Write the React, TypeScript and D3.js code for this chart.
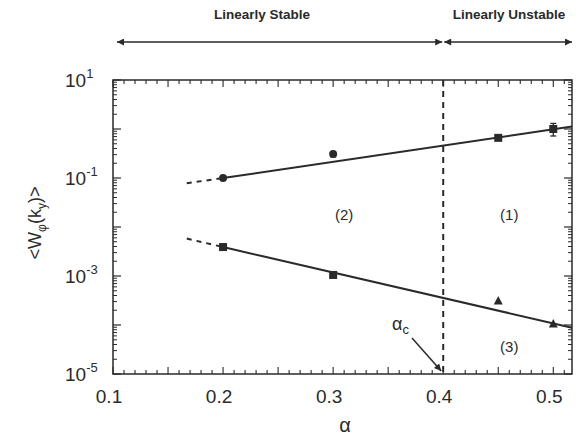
import React from "react";
import * as d3 from "d3";

const W = 580;
const H = 440;

// Data (alpha, <W_phi(k_y)>)
const upperAlpha = [0.2, 0.3, 0.45, 0.5];
const upperValue = [0.1, 0.31, 0.66, 1.0];
const upperMarker = ["circle", "circle", "square", "square"];
const upperErrLo = [0.1, 0.27, 0.6, 0.72];
const upperErrHi = [0.1, 0.31, 0.72, 1.3];

const lowerAlpha = [0.2, 0.3, 0.45, 0.5];
const lowerValue = [0.0039, 0.00105, 0.00031, 0.000105];
const lowerMarker = ["square", "square", "triangle", "triangle"];

const upperFitAlpha = [0.2, 0.517];
const upperFitValue = [0.1, 1.12];
const upperDashAlpha = [0.167, 0.2];
const upperDashValue = [0.078, 0.1];

const lowerFitAlpha = [0.2, 0.517];
const lowerFitValue = [0.0039, 0.000088];
const lowerDashAlpha = [0.167, 0.2];
const lowerDashValue = [0.0058, 0.0039];

const alphaCritical = 0.4;
const xTickLabels = [0.1, 0.2, 0.3, 0.4, 0.5];
const yTickExponents = [1, -1, -3, -5];

const regionLabels = [
  { text: "(1)", a: 0.46, w: 0.014 },
  { text: "(2)", a: 0.31, w: 0.014 },
  { text: "(3)", a: 0.46, w: 0.000028 },
];

const INK = "#2a2a2a";
const FONT = "'Liberation Sans', Arial, Helvetica, sans-serif";

export default function App() {
  const left = 113, right = 572, top = 80, bottom = 374;
  const x = d3.scaleLinear().domain([0.1, 0.517]).range([left, right]);
  const y = d3.scaleLog().domain([1e-5, 10]).range([bottom, top]);

  const line = d3
    .line<[number, number]>()
    .x((d) => x(d[0]))
    .y((d) => y(d[1]));

  const zip = (a: number[], b: number[]) => a.map((v, i) => [v, b[i]] as [number, number]);

  // ticks
  const xMinor = d3.range(0.1, 0.5171, 0.01).map((v) => +v.toFixed(3));
  const yMajor = d3.range(-5, 2).map((e) => Math.pow(10, e));
  const yMinor: number[] = [];
  for (let e = -5; e < 1; e++) for (let m = 2; m <= 9; m++) yMinor.push(m * Math.pow(10, e));

  const marker = (type: string, cx: number, cy: number, key: string) => {
    if (type === "circle") return <circle key={key} cx={cx} cy={cy} r={4} fill={INK} />;
    if (type === "square")
      return <rect key={key} x={cx - 4} y={cy - 4} width={8} height={8} fill={INK} />;
    return (
      <path
        key={key}
        d={`M${cx},${cy - 5}L${cx + 4.5},${cy + 3.5}L${cx - 4.5},${cy + 3.5}Z`}
        fill={INK}
      />
    );
  };

  const xc = x(alphaCritical);
  const arrowY = 42;

  return (
    <svg width={W} height={H} style={{ position: "absolute", left: 0, top: 0, background: "#fff" }} fontFamily={FONT}>
      <defs>
        <marker id="ah" viewBox="0 0 10 10" refX="10" refY="5" markerWidth="12" markerHeight="7" orient="auto-start-reverse" markerUnits="userSpaceOnUse">
          <path d="M0,0L10,5L0,10Z" fill={INK} />
        </marker>
      </defs>
      <rect x={0} y={0} width={W} height={H} fill="#fff" />

      {/* top labels and arrows */}
      <text x={262} y={19} textAnchor="middle" fontSize={13.5} fontWeight="bold" fill={INK}>Linearly Stable</text>
      <text x={509} y={19} textAnchor="middle" fontSize={13.5} fontWeight="bold" fill={INK}>Linearly Unstable</text>
      <line x1={x(0.1) + 4} y1={arrowY} x2={xc - 1} y2={arrowY} stroke={INK} strokeWidth={1.3} markerStart="url(#ah)" markerEnd="url(#ah)" />
      <line x1={xc + 1} y1={arrowY} x2={right} y2={arrowY} stroke={INK} strokeWidth={1.3} markerStart="url(#ah)" markerEnd="url(#ah)" />

      {/* frame */}
      <rect x={left} y={top} width={right - left} height={bottom - top} fill="none" stroke={INK} strokeWidth={1.5} />

      {/* x ticks bottom and top */}
      {xMinor.map((v, i) => {
        const major = Math.abs(Math.round(v * 20) - v * 20) < 1e-6;
        const len = major ? 7 : 4;
        return (
          <g key={"xt" + i} stroke={INK} strokeWidth={1.1}>
            <line x1={x(v)} x2={x(v)} y1={bottom} y2={bottom - len} />
            <line x1={x(v)} x2={x(v)} y1={top} y2={top + len} />
          </g>
        );
      })}
      {/* y ticks left and right */}
      {yMajor.map((v, i) => (
        <g key={"yM" + i} stroke={INK} strokeWidth={1.2}>
          <line x1={left} x2={left + 8} y1={y(v)} y2={y(v)} />
          <line x1={right} x2={right - 8} y1={y(v)} y2={y(v)} />
        </g>
      ))}
      {yMinor.map((v, i) => (
        <g key={"ym" + i} stroke={INK} strokeWidth={1}>
          <line x1={left} x2={left + 4} y1={y(v)} y2={y(v)} />
          <line x1={right} x2={right - 4} y1={y(v)} y2={y(v)} />
        </g>
      ))}

      {/* x tick labels */}
      {xTickLabels.map((v) => (
        <text key={"xl" + v} x={x(v) - 4} y={403} textAnchor="middle" fontSize={19} fill={INK}>
          {v.toFixed(1)}
        </text>
      ))}
      {/* y tick labels */}
      {yTickExponents.map((e) => (
        <text key={"yl" + e} x={65} y={y(Math.pow(10, e)) + 7} fontSize={19} fill={INK}>
          10
          <tspan dy={-9} fontSize={13}>{e}</tspan>
        </text>
      ))}

      {/* axis titles */}
      <text x={345} y={432} textAnchor="middle" fontSize={20} fill={INK}>α</text>
      <text transform="translate(41,223) rotate(-90)" textAnchor="middle" fontSize={18} fill={INK}>
        {"<W"}
        <tspan dy={5} fontSize={12}>φ</tspan>
        <tspan dy={-5}>{"(k"}</tspan>
        <tspan dy={5} fontSize={12}>y</tspan>
        <tspan dy={-5}>{")>"}</tspan>
      </text>

      {/* critical alpha dashed line */}
      <line x1={xc} x2={xc} y1={top} y2={bottom} stroke={INK} strokeWidth={2} strokeDasharray="6,5" />

      {/* fits */}
      <path d={line(zip(upperFitAlpha, upperFitValue)) || ""} fill="none" stroke={INK} strokeWidth={2} />
      <path d={line(zip(upperDashAlpha, upperDashValue)) || ""} fill="none" stroke={INK} strokeWidth={2} strokeDasharray="5,5" />
      <path d={line(zip(lowerFitAlpha, lowerFitValue)) || ""} fill="none" stroke={INK} strokeWidth={2} />
      <path d={line(zip(lowerDashAlpha, lowerDashValue)) || ""} fill="none" stroke={INK} strokeWidth={2} strokeDasharray="5,5" />

      {/* error bars (upper) */}
      {upperAlpha.map((a, i) =>
        upperErrHi[i] !== upperErrLo[i] ? (
          <g key={"eb" + i} stroke={INK} strokeWidth={1.3}>
            <line x1={x(a)} x2={x(a)} y1={y(upperErrLo[i])} y2={y(upperErrHi[i])} />
            <line x1={x(a) - 3} x2={x(a) + 3} y1={y(upperErrLo[i])} y2={y(upperErrLo[i])} />
            <line x1={x(a) - 3} x2={x(a) + 3} y1={y(upperErrHi[i])} y2={y(upperErrHi[i])} />
          </g>
        ) : null
      )}
      {/* markers */}
      {upperAlpha.map((a, i) => marker(upperMarker[i], x(a), y(upperValue[i]), "u" + i))}
      {lowerAlpha.map((a, i) => marker(lowerMarker[i], x(a), y(lowerValue[i]), "l" + i))}

      {/* region labels */}
      {regionLabels.map((r) => (
        <text key={r.text} x={x(r.a)} y={y(r.w)} textAnchor="middle" fontSize={15} fill={INK}>
          {r.text}
        </text>
      ))}

      {/* alpha_c annotation */}
      <text x={392} y={330} fontSize={18} fill={INK}>
        α<tspan dy={4} fontSize={13}>c</tspan>
      </text>
      <line x1={412} y1={338} x2={xc - 2} y2={bottom - 3} stroke={INK} strokeWidth={1.5} markerEnd="url(#ah)" />
    </svg>
  );
}
